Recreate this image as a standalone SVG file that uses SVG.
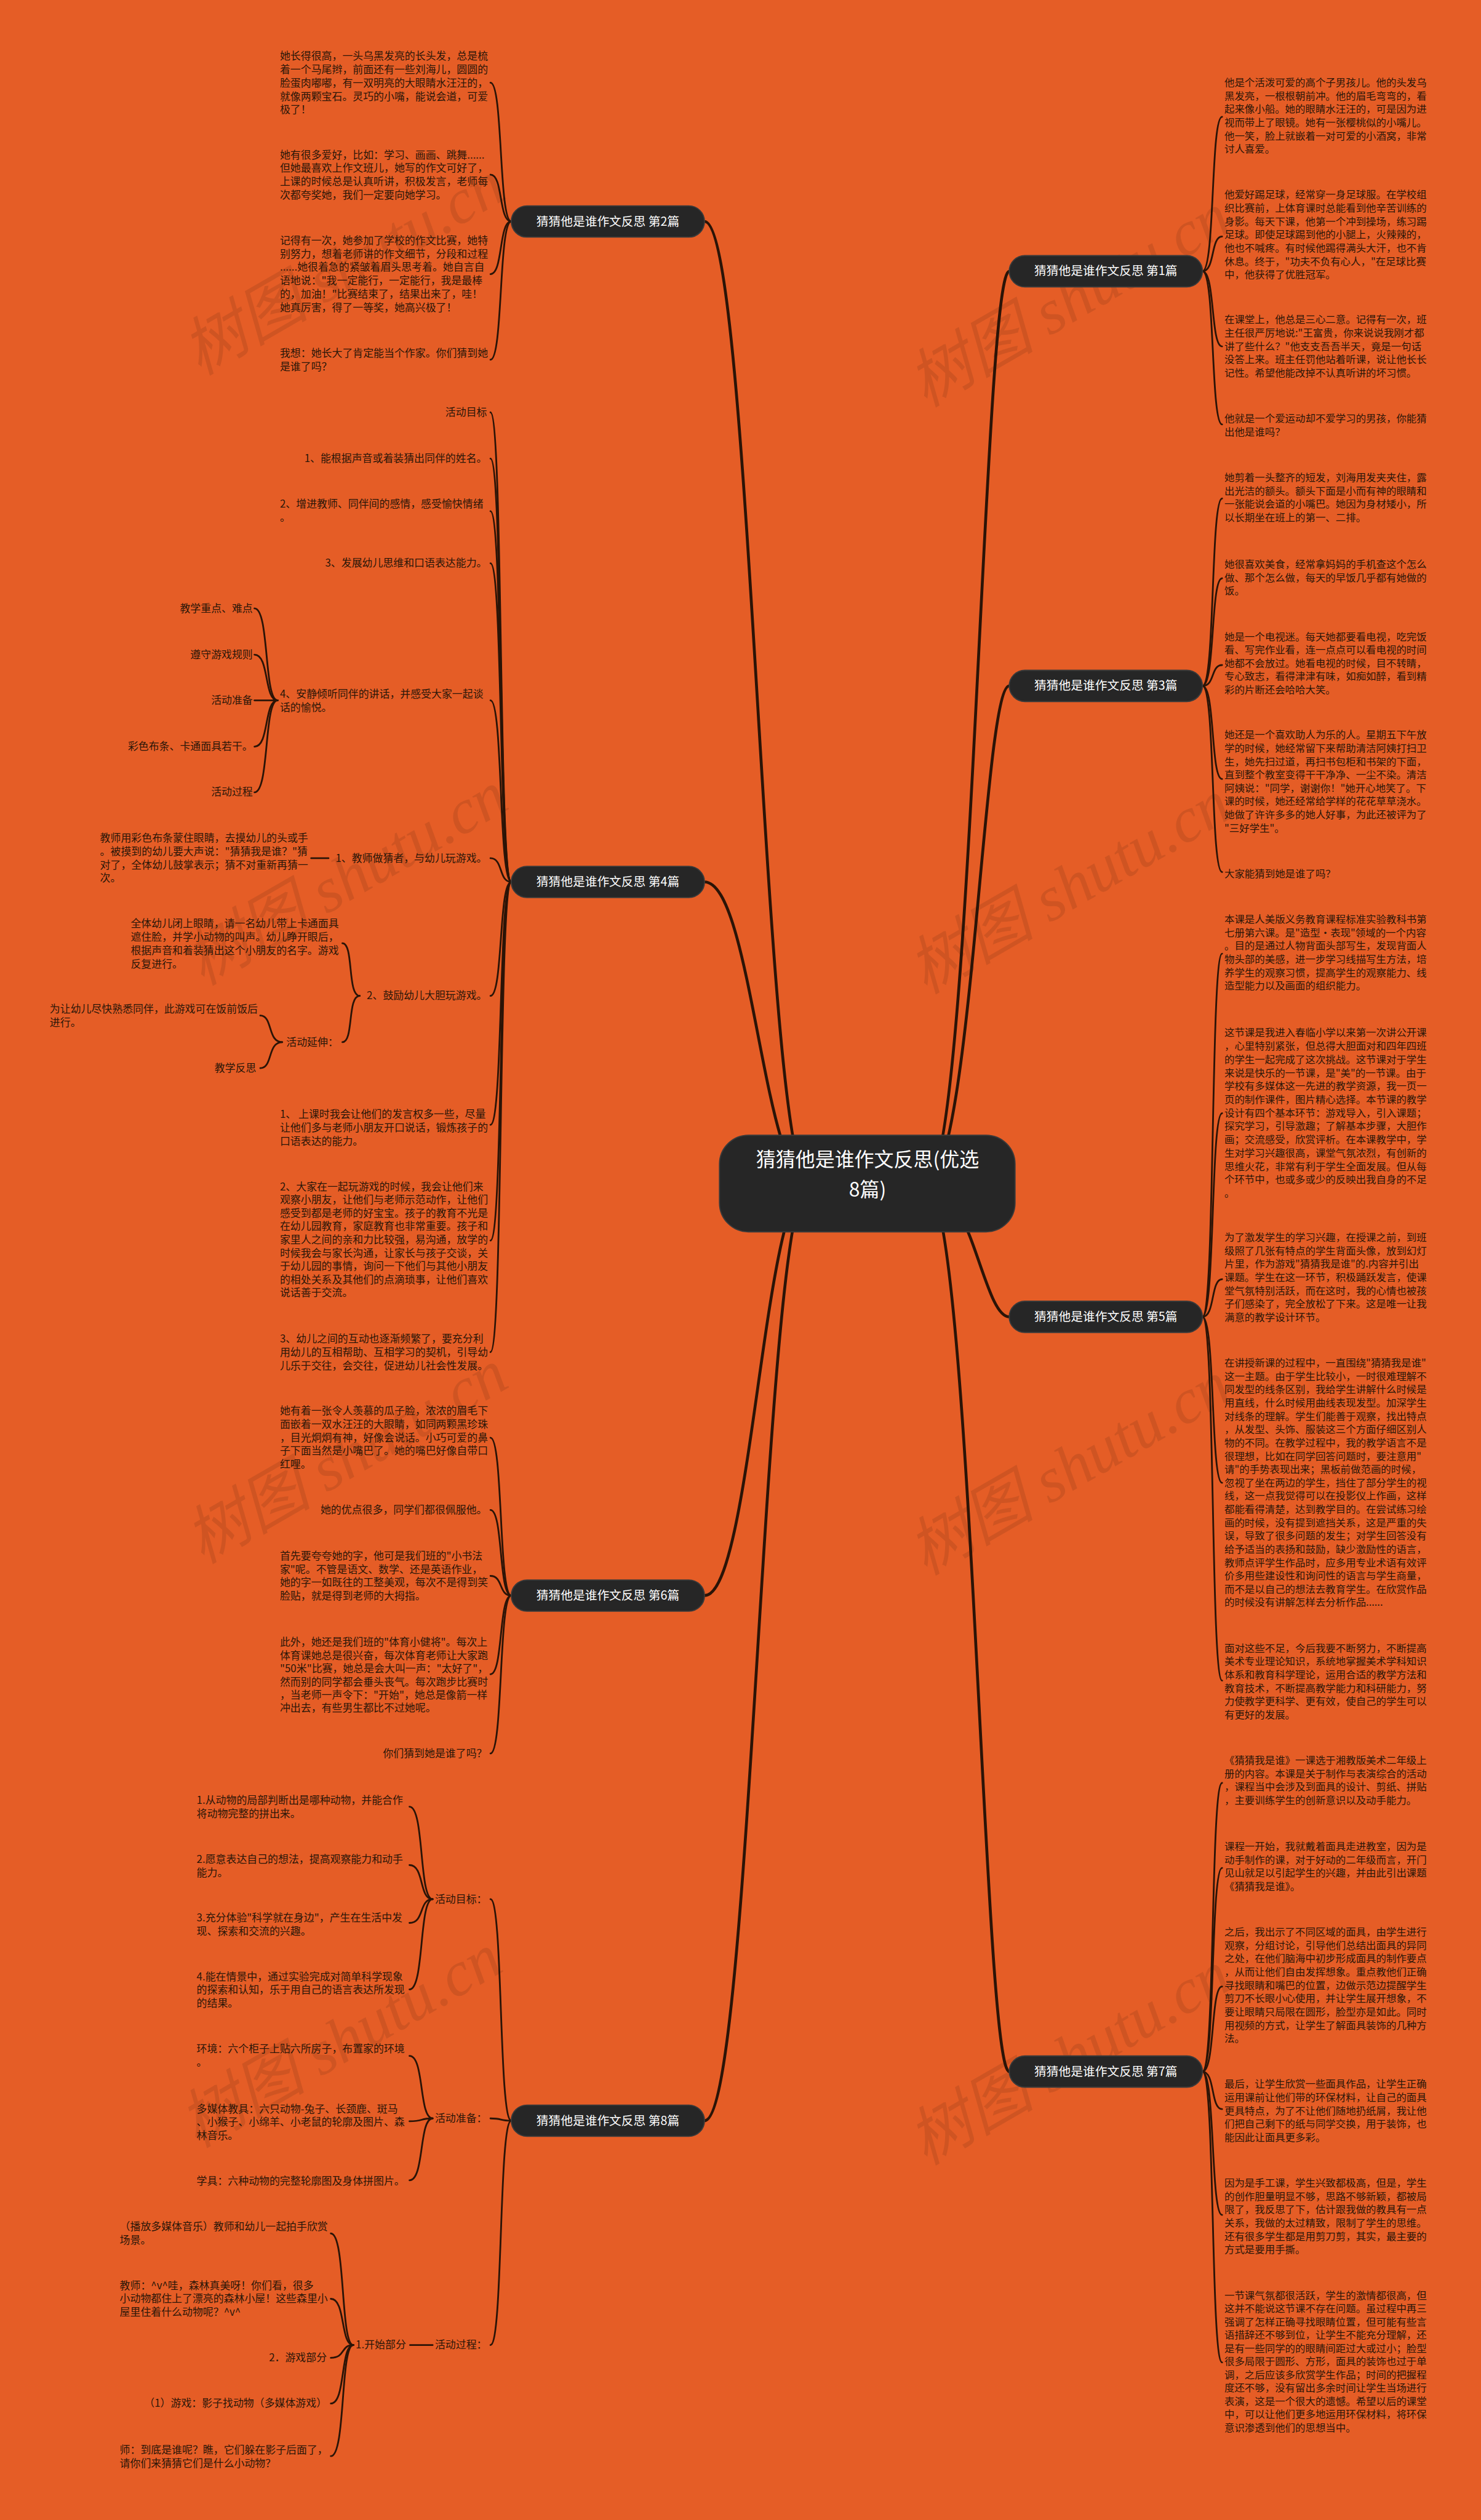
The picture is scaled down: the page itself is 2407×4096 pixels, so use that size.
<svg xmlns="http://www.w3.org/2000/svg" width="2407" height="4096" viewBox="0 0 2407 4096">
<style>
.bg{fill:#E55D26}
.t{font-family:"Noto Sans CJK SC","Noto Sans",sans-serif;font-size:18px;fill:#2B1608}
.r{font-size:17.5px}
.e{text-anchor:end}
.lb{font-family:"Noto Sans CJK SC","Noto Sans",sans-serif;font-size:21px;fill:#fff;text-anchor:middle}
.ct{font-family:"Noto Sans CJK SC","Noto Sans",sans-serif;font-size:34px;fill:#fff;text-anchor:middle}
.box{fill:#262626;stroke:#3a3a3a;stroke-width:2}
.c{fill:none;stroke:#2B1407;stroke-width:3;stroke-linecap:round}
.m{stroke-width:5}
.wm{font-family:"Liberation Serif","Noto Sans CJK SC",serif;font-style:italic;font-size:110px;fill:#000;opacity:.09}
</style>
<rect class="bg" x="0" y="0" width="2407" height="4096"/>
<g transform="scale(0.94)">
<g id="watermark">
<text class="wm" transform="translate(345,650) rotate(-30)">树图 shutu.cn</text>
<text class="wm" transform="translate(350,1705) rotate(-30)">树图 shutu.cn</text>
<text class="wm" transform="translate(350,2705) rotate(-30)">树图 shutu.cn</text>
<text class="wm" transform="translate(340,3715) rotate(-30)">树图 shutu.cn</text>
<text class="wm" transform="translate(1600,705) rotate(-30)">树图 shutu.cn</text>
<text class="wm" transform="translate(1600,1720) rotate(-30)">树图 shutu.cn</text>
<text class="wm" transform="translate(1600,2725) rotate(-30)">树图 shutu.cn</text>
<text class="wm" transform="translate(1600,3745) rotate(-30)">树图 shutu.cn</text>
</g>
<g id="connectors">
<path class="c m" d="M1400,2046 C1320,2046 1300,383 1218,383"/>
<path class="c m" d="M1400,2046 C1320,2046 1300,1525 1218,1525"/>
<path class="c m" d="M1400,2046 C1320,2046 1300,2759 1218,2759"/>
<path class="c m" d="M1400,2046 C1320,2046 1300,3667 1218,3667"/>
<path class="c m" d="M1600,2046 C1680,2046 1700,469 1745,469"/>
<path class="c m" d="M1600,2046 C1680,2046 1700,1186 1745,1186"/>
<path class="c m" d="M1600,2046 C1680,2046 1700,2277 1745,2277"/>
<path class="c m" d="M1600,2046 C1680,2046 1700,3582 1745,3582"/>
<path class="c" d="M884,383 C862,383 870,143 848,143"/>
<path class="c" d="M884,383 C862,383 870,302 848,302"/>
<path class="c" d="M884,383 C862,383 870,474 848,474"/>
<path class="c" d="M884,383 C862,383 870,622 848,622"/>
<path class="c" d="M884,1525 C862,1525 870,713 848,713"/>
<path class="c" d="M884,1525 C862,1525 870,793 848,793"/>
<path class="c" d="M884,1525 C862,1525 870,884 848,884"/>
<path class="c" d="M884,1525 C862,1525 870,974 848,974"/>
<path class="c" d="M884,1525 C862,1525 870,1211 848,1211"/>
<path class="c" d="M884,1525 C862,1525 870,1484 848,1484"/>
<path class="c" d="M884,1525 C862,1525 870,1722 848,1722"/>
<path class="c" d="M884,1525 C862,1525 870,1945 848,1945"/>
<path class="c" d="M884,1525 C862,1525 870,2145 848,2145"/>
<path class="c" d="M884,1525 C862,1525 870,2338 848,2338"/>
<path class="c" d="M480,1211 C456,1211 466,1052 440,1052"/>
<path class="c" d="M480,1211 C456,1211 466,1132 440,1132"/>
<path class="c" d="M480,1211 L440,1211"/>
<path class="c" d="M480,1211 C456,1211 466,1291 440,1291"/>
<path class="c" d="M480,1211 C456,1211 466,1370 440,1370"/>
<path class="c" d="M568,1484 L538,1484"/>
<path class="c" d="M622,1722 C600,1722 612,1631 592,1631"/>
<path class="c" d="M622,1722 C600,1722 612,1802 592,1802"/>
<path class="c" d="M488,1802 C462,1802 472,1756 450,1756"/>
<path class="c" d="M488,1802 C462,1802 472,1847 450,1847"/>
<path class="c" d="M884,2759 C862,2759 870,2486 848,2486"/>
<path class="c" d="M884,2759 C862,2759 870,2611 848,2611"/>
<path class="c" d="M884,2759 C862,2759 870,2725 848,2725"/>
<path class="c" d="M884,2759 C862,2759 870,2895 848,2895"/>
<path class="c" d="M884,2759 C862,2759 870,3032 848,3032"/>
<path class="c" d="M884,3667 C862,3667 870,3284 848,3284"/>
<path class="c" d="M884,3667 C862,3667 870,3663 848,3663"/>
<path class="c" d="M884,3667 C862,3667 870,4055 848,4055"/>
<path class="c" d="M748,3284 C724,3284 734,3124 708,3124"/>
<path class="c" d="M748,3284 C724,3284 734,3225 708,3225"/>
<path class="c" d="M748,3284 C724,3284 734,3325 708,3325"/>
<path class="c" d="M748,3284 C724,3284 734,3440 708,3440"/>
<path class="c" d="M748,3663 C724,3663 734,3555 708,3555"/>
<path class="c" d="M748,3663 C724,3663 734,3668 708,3668"/>
<path class="c" d="M748,3663 C724,3663 734,3770 708,3770"/>
<path class="c" d="M748,4055 L709,4055"/>
<path class="c" d="M611,4055 C588,4055 598,3862 572,3862"/>
<path class="c" d="M611,4055 C588,4055 598,3975 572,3975"/>
<path class="c" d="M611,4055 C588,4055 598,4077 572,4077"/>
<path class="c" d="M611,4055 C588,4055 598,4156 572,4156"/>
<path class="c" d="M611,4055 C588,4055 598,4247 572,4247"/>
<path class="c" d="M2079,469 C2101,469 2093,202 2113,202"/>
<path class="c" d="M2079,469 C2101,469 2093,409 2113,409"/>
<path class="c" d="M2079,469 C2101,469 2093,599 2113,599"/>
<path class="c" d="M2079,469 C2101,469 2093,734 2113,734"/>
<path class="c" d="M2079,1186 C2101,1186 2093,862 2113,862"/>
<path class="c" d="M2079,1186 C2101,1186 2093,1000 2113,1000"/>
<path class="c" d="M2079,1186 C2101,1186 2093,1150 2113,1150"/>
<path class="c" d="M2079,1186 C2101,1186 2093,1347 2113,1347"/>
<path class="c" d="M2079,1186 C2101,1186 2093,1508 2113,1508"/>
<path class="c" d="M2079,2277 C2101,2277 2093,1649 2113,1649"/>
<path class="c" d="M2079,2277 C2101,2277 2093,1925 2113,1925"/>
<path class="c" d="M2079,2277 C2101,2277 2093,2212 2113,2212"/>
<path class="c" d="M2079,2277 C2101,2277 2093,2564 2113,2564"/>
<path class="c" d="M2079,2277 C2101,2277 2093,2906 2113,2906"/>
<path class="c" d="M2079,3582 C2101,3582 2093,3083 2113,3083"/>
<path class="c" d="M2079,3582 C2101,3582 2093,3230 2113,3230"/>
<path class="c" d="M2079,3582 C2101,3582 2093,3435 2113,3435"/>
<path class="c" d="M2079,3582 C2101,3582 2093,3647 2113,3647"/>
<path class="c" d="M2079,3582 C2101,3582 2093,3830 2113,3830"/>
<path class="c" d="M2079,3582 C2101,3582 2093,4085 2113,4085"/>
</g>
<g id="root">
<rect class="box" x="1244" y="1963" width="511" height="167" rx="50"/>
<text class="ct" x="1500" y="2017">猜猜他是谁作文反思(优选</text>
<text class="ct" x="1500" y="2069">8篇)</text>
</g>
<g id="b1"><rect class="box" x="1745" y="442" width="334" height="54" rx="27"/><text class="lb" x="1912" y="476">猜猜他是谁作文反思 第1篇</text></g>
<g id="b3"><rect class="box" x="1745" y="1159" width="334" height="54" rx="27"/><text class="lb" x="1912" y="1193">猜猜他是谁作文反思 第3篇</text></g>
<g id="b5"><rect class="box" x="1745" y="2250" width="334" height="54" rx="27"/><text class="lb" x="1912" y="2284">猜猜他是谁作文反思 第5篇</text></g>
<g id="b7"><rect class="box" x="1745" y="3555" width="334" height="54" rx="27"/><text class="lb" x="1912" y="3589">猜猜他是谁作文反思 第7篇</text></g>
<g id="b2"><rect class="box" x="884" y="356" width="334" height="54" rx="27"/><text class="lb" x="1051" y="390">猜猜他是谁作文反思 第2篇</text></g>
<g id="b4"><rect class="box" x="884" y="1498" width="334" height="54" rx="27"/><text class="lb" x="1051" y="1532">猜猜他是谁作文反思 第4篇</text></g>
<g id="b6"><rect class="box" x="884" y="2732" width="334" height="54" rx="27"/><text class="lb" x="1051" y="2766">猜猜他是谁作文反思 第6篇</text></g>
<g id="b8"><rect class="box" x="884" y="3640" width="334" height="54" rx="27"/><text class="lb" x="1051" y="3674">猜猜他是谁作文反思 第8篇</text></g>

<g id="n2-1"><text class="t"><tspan x="484" y="103">她长得很高，一头乌黑发亮的长头发，总是梳</tspan><tspan x="484" dy="23.3">着一个马尾辫，前面还有一些刘海儿，圆圆的</tspan><tspan x="484" dy="23.3">脸蛋肉嘟嘟，有一双明亮的大眼睛水汪汪的，</tspan><tspan x="484" dy="23.3">就像两颗宝石。灵巧的小嘴，能说会道，可爱</tspan><tspan x="484" dy="23.3">极了！</tspan></text></g>
<g id="n2-2"><text class="t"><tspan x="484" y="274">她有很多爱好，比如：学习、画画、跳舞......</tspan><tspan x="484" dy="23.3">但她最喜欢上作文班儿，她写的作文可好了，</tspan><tspan x="484" dy="23.3">上课的时候总是认真听讲，积极发言，老师每</tspan><tspan x="484" dy="23.3">次都夸奖她，我们一定要向她学习。</tspan></text></g>
<g id="n2-3"><text class="t"><tspan x="484" y="422">记得有一次，她参加了学校的作文比赛，她特</tspan><tspan x="484" dy="23.3">别努力，想着老师讲的作文细节，分段和过程</tspan><tspan x="484" dy="23.3">......她很着急的紧皱着眉头思考着。她自言自</tspan><tspan x="484" dy="23.3">语地说："我一定能行，一定能行，我是最棒</tspan><tspan x="484" dy="23.3">的，加油！"比赛结束了，结果出来了，哇！</tspan><tspan x="484" dy="23.3">她真厉害，得了一等奖，她高兴极了！</tspan></text></g>
<g id="n2-4"><text class="t"><tspan x="484" y="617">我想：她长大了肯定能当个作家。你们猜到她</tspan><tspan x="484" dy="23.3">是谁了吗？</tspan></text></g>

<g id="n4-1"><text class="t e" x="842" y="719">活动目标</text></g>
<g id="n4-2"><text class="t e" x="842" y="799">1、能根据声音或着装猜出同伴的姓名。</text></g>
<g id="n4-3"><text class="t"><tspan x="484" y="878">2、增进教师、同伴间的感情，感受愉快情绪</tspan><tspan x="484" dy="23.3">。</tspan></text></g>
<g id="n4-4"><text class="t e" x="842" y="980">3、发展幼儿思维和口语表达能力。</text></g>
<g id="n4-5"><text class="t"><tspan x="484" y="1206">4、安静倾听同伴的讲话，并感受大家一起谈</tspan><tspan x="484" dy="23.3">话的愉悦。</tspan></text></g>
<g id="n4-5-1"><text class="t e" x="437" y="1058">教学重点、难点</text></g>
<g id="n4-5-2"><text class="t e" x="437" y="1138">遵守游戏规则</text></g>
<g id="n4-5-3"><text class="t e" x="437" y="1217">活动准备</text></g>
<g id="n4-5-4"><text class="t e" x="437" y="1297">彩色布条、卡通面具若干。</text></g>
<g id="n4-5-5"><text class="t e" x="437" y="1376">活动过程</text></g>
<g id="n4-6"><text class="t e" x="842" y="1490">1、教师做猜者，与幼儿玩游戏。</text></g>
<g id="n4-6-1"><text class="t"><tspan x="173" y="1455">教师用彩色布条蒙住眼睛，去摸幼儿的头或手</tspan><tspan x="173" dy="23.3">。被摸到的幼儿要大声说："猜猜我是谁？"猜</tspan><tspan x="173" dy="23.3">对了，全体幼儿鼓掌表示；猜不对重新再猜一</tspan><tspan x="173" dy="23.3">次。</tspan></text></g>
<g id="n4-7"><text class="t e" x="842" y="1728">2、鼓励幼儿大胆玩游戏。</text></g>
<g id="n4-7-1"><text class="t"><tspan x="226" y="1603">全体幼儿闭上眼睛，请一名幼儿带上卡通面具</tspan><tspan x="226" dy="23.3">遮住脸，并学小动物的叫声。幼儿睁开眼后，</tspan><tspan x="226" dy="23.3">根据声音和着装猜出这个小朋友的名字。游戏</tspan><tspan x="226" dy="23.3">反复进行。</tspan></text></g>
<g id="n4-7-2"><text class="t" x="495" y="1808">活动延伸：</text></g>
<g id="n4-7-2-1"><text class="t"><tspan x="86" y="1751">为让幼儿尽快熟悉同伴，此游戏可在饭前饭后</tspan><tspan x="86" dy="23.3">进行。</tspan></text></g>
<g id="n4-7-2-2"><text class="t e" x="443" y="1853">教学反思</text></g>
<g id="n4-8"><text class="t"><tspan x="484" y="1933">1、 上课时我会让他们的发言权多一些，尽量</tspan><tspan x="484" dy="23.3">让他们多与老师小朋友开口说话，锻炼孩子的</tspan><tspan x="484" dy="23.3">口语表达的能力。</tspan></text></g>
<g id="n4-9"><text class="t"><tspan x="484" y="2058">2、大家在一起玩游戏的时候，我会让他们来</tspan><tspan x="484" dy="23">观察小朋友，让他们与老师示范动作，让他们</tspan><tspan x="484" dy="23">感受到都是老师的好宝宝。孩子的教育不光是</tspan><tspan x="484" dy="23">在幼儿园教育，家庭教育也非常重要。孩子和</tspan><tspan x="484" dy="23">家里人之间的亲和力比较强，易沟通，放学的</tspan><tspan x="484" dy="23">时候我会与家长沟通，让家长与孩子交谈，关</tspan><tspan x="484" dy="23">于幼儿园的事情，询问一下他们与其他小朋友</tspan><tspan x="484" dy="23">的相处关系及其他们的点滴琐事，让他们喜欢</tspan><tspan x="484" dy="23">说话善于交流。</tspan></text></g>
<g id="n4-10"><text class="t"><tspan x="484" y="2321">3、幼儿之间的互动也逐渐频繁了，要充分利</tspan><tspan x="484" dy="23.3">用幼儿的互相帮助、互相学习的契机，引导幼</tspan><tspan x="484" dy="23.3">儿乐于交往，会交往，促进幼儿社会性发展。</tspan></text></g>

<g id="n6-1"><text class="t"><tspan x="484" y="2446">她有着一张令人羡慕的瓜子脸，浓浓的眉毛下</tspan><tspan x="484" dy="23.1">面嵌着一双水汪汪的大眼睛，如同两颗黑珍珠</tspan><tspan x="484" dy="23.1">，目光炯炯有神，好像会说话。小巧可爱的鼻</tspan><tspan x="484" dy="23.1">子下面当然是小嘴巴了。她的嘴巴好像自带口</tspan><tspan x="484" dy="23.1">红哩。</tspan></text></g>
<g id="n6-2"><text class="t e" x="842" y="2617">她的优点很多，同学们都很佩服他。</text></g>
<g id="n6-3"><text class="t"><tspan x="484" y="2697">首先要夸夸她的字，他可是我们班的"小书法</tspan><tspan x="484" dy="23">家"呢。不管是语文、数学、还是英语作业，</tspan><tspan x="484" dy="23">她的字一如既往的工整美观，每次不是得到笑</tspan><tspan x="484" dy="23">脸贴，就是得到老师的大拇指。</tspan></text></g>
<g id="n6-4"><text class="t"><tspan x="484" y="2846">此外，她还是我们班的"体育小健将"。每次上</tspan><tspan x="484" dy="22.8">体育课她总是很兴奋，每次体育老师让大家跑</tspan><tspan x="484" dy="22.8">"50米"比赛，她总是会大叫一声："太好了"，</tspan><tspan x="484" dy="22.8">然而别的同学都会垂头丧气。每次跑步比赛时</tspan><tspan x="484" dy="22.8">，当老师一声令下："开始"，她总是像箭一样</tspan><tspan x="484" dy="22.8">冲出去，有些男生都比不过她呢。</tspan></text></g>
<g id="n6-5"><text class="t e" x="842" y="3038">你们猜到她是谁了吗？</text></g>

<g id="n8-1"><text class="t e" x="842" y="3290">活动目标：</text></g>
<g id="n8-1-1"><text class="t"><tspan x="340" y="3119">1.从动物的局部判断出是哪种动物，并能合作</tspan><tspan x="340" dy="23.3">将动物完整的拼出来。</tspan></text></g>
<g id="n8-1-2"><text class="t"><tspan x="340" y="3221">2.愿意表达自己的想法，提高观察能力和动手</tspan><tspan x="340" dy="23.3">能力。</tspan></text></g>
<g id="n8-1-3"><text class="t"><tspan x="340" y="3322">3.充分体验"科学就在身边"，产生在生活中发</tspan><tspan x="340" dy="23.3">现、探索和交流的兴趣。</tspan></text></g>
<g id="n8-1-4"><text class="t"><tspan x="340" y="3424">4.能在情景中，通过实验完成对简单科学现象</tspan><tspan x="340" dy="23.3">的探索和认知，乐于用自己的语言表达所发现</tspan><tspan x="340" dy="23.3">的结果。</tspan></text></g>
<g id="n8-2"><text class="t e" x="842" y="3669">活动准备：</text></g>
<g id="n8-2-1"><text class="t"><tspan x="340" y="3549">环境：六个柜子上贴六所房子，布置家的环境</tspan><tspan x="340" dy="23.3">。</tspan></text></g>
<g id="n8-2-2"><text class="t"><tspan x="340" y="3653">多媒体教具：六只动物-兔子、长颈鹿、斑马</tspan><tspan x="340" dy="23">、小猴子、小绵羊、小老鼠的轮廓及图片、森</tspan><tspan x="340" dy="23">林音乐。</tspan></text></g>
<g id="n8-2-3"><text class="t"><tspan x="340" y="3778">学具：六种动物的完整轮廓图及身体拼图片。</tspan></text></g>
<g id="n8-3"><text class="t e" x="842" y="4061">活动过程：</text></g>
<g id="n8-3-1"><text class="t" x="615" y="4061">1.开始部分</text></g>
<g id="n8-3-1-1"><text class="t"><tspan x="207" y="3856">（播放多媒体音乐）教师和幼儿一起拍手欣赏</tspan><tspan x="207" dy="23.3">场景。</tspan></text></g>
<g id="n8-3-1-2"><text class="t"><tspan x="207" y="3958">教师：^v^哇，森林真美呀！你们看，很多</tspan><tspan x="207" dy="23.3">小动物都住上了漂亮的森林小屋！这些森里小</tspan><tspan x="207" dy="23.3">屋里住着什么动物呢？^v^</tspan></text></g>
<g id="n8-3-1-3"><text class="t e" x="565" y="4083">2．游戏部分</text></g>
<g id="n8-3-1-4"><text class="t e" x="565" y="4162">（1）游戏：影子找动物（多媒体游戏）</text></g>
<g id="n8-3-1-5"><text class="t"><tspan x="207" y="4243">师：到底是谁呢？瞧，它们躲在影子后面了，</tspan><tspan x="207" dy="23.3">请你们来猜猜它们是什么小动物？</tspan></text></g>

<g id="n1-1"><text class="t r"><tspan x="2117" y="149">他是个活泼可爱的高个子男孩儿。他的头发乌</tspan><tspan x="2117" dy="23">黑发亮，一根根朝前冲。他的眉毛弯弯的，看</tspan><tspan x="2117" dy="23">起来像小船。她的眼睛水汪汪的，可是因为进</tspan><tspan x="2117" dy="23">视而带上了眼镜。她有一张樱桃似的小嘴儿。</tspan><tspan x="2117" dy="23">他一笑，脸上就嵌着一对可爱的小酒窝，非常</tspan><tspan x="2117" dy="23">讨人喜爱。</tspan></text></g>
<g id="n1-2"><text class="t r"><tspan x="2117" y="343">他爱好踢足球，经常穿一身足球服。在学校组</tspan><tspan x="2117" dy="23">织比赛前，上体育课时总能看到他辛苦训练的</tspan><tspan x="2117" dy="23">身影。每天下课，他第一个冲到操场，练习踢</tspan><tspan x="2117" dy="23">足球。即使足球踢到他的小腿上，火辣辣的，</tspan><tspan x="2117" dy="23">他也不喊疼。有时候他踢得满头大汗，也不肯</tspan><tspan x="2117" dy="23">休息。终于，"功夫不负有心人，"在足球比赛</tspan><tspan x="2117" dy="23">中，他获得了优胜冠军。</tspan></text></g>
<g id="n1-3"><text class="t r"><tspan x="2117" y="559">在课堂上，他总是三心二意。记得有一次，班</tspan><tspan x="2117" dy="23">主任很严厉地说:"王富贵，你来说说我刚才都</tspan><tspan x="2117" dy="23">讲了些什么？"他支支吾吾半天，竟是一句话</tspan><tspan x="2117" dy="23">没答上来。班主任罚他站着听课，说让他长长</tspan><tspan x="2117" dy="23">记性。希望他能改掉不认真听讲的坏习惯。</tspan></text></g>
<g id="n1-4"><text class="t r"><tspan x="2117" y="730">他就是一个爱运动却不爱学习的男孩，你能猜</tspan><tspan x="2117" dy="23">出他是谁吗？</tspan></text></g>

<g id="n3-1"><text class="t r"><tspan x="2117" y="832">她剪着一头整齐的短发，刘海用发夹夹住，露</tspan><tspan x="2117" dy="23">出光洁的额头。额头下面是小而有神的眼睛和</tspan><tspan x="2117" dy="23">一张能说会道的小嘴巴。她因为身材矮小，所</tspan><tspan x="2117" dy="23">以长期坐在班上的第一、二排。</tspan></text></g>
<g id="n3-2"><text class="t r"><tspan x="2117" y="982">她很喜欢美食，经常拿妈妈的手机查这个怎么</tspan><tspan x="2117" dy="23">做、那个怎么做，每天的早饭几乎都有她做的</tspan><tspan x="2117" dy="23">饭。</tspan></text></g>
<g id="n3-3"><text class="t r"><tspan x="2117" y="1107">她是一个电视迷。每天她都要看电视，吃完饭</tspan><tspan x="2117" dy="23">看、写完作业看，连一点点可以看电视的时间</tspan><tspan x="2117" dy="23">她都不会放过。她看电视的时候，目不转睛，</tspan><tspan x="2117" dy="23">专心致志，看得津津有味，如痴如醉，看到精</tspan><tspan x="2117" dy="23">彩的片断还会哈哈大笑。</tspan></text></g>
<g id="n3-4"><text class="t r"><tspan x="2117" y="1277">她还是一个喜欢助人为乐的人。星期五下午放</tspan><tspan x="2117" dy="23">学的时候，她经常留下来帮助清洁阿姨打扫卫</tspan><tspan x="2117" dy="23">生，她先扫过道，再扫书包柜和书架的下面，</tspan><tspan x="2117" dy="23">直到整个教室变得干干净净、一尘不染。清洁</tspan><tspan x="2117" dy="23">阿姨说："同学，谢谢你！"她开心地笑了。下</tspan><tspan x="2117" dy="23">课的时候，她还经常给学样的花花草草浇水。</tspan><tspan x="2117" dy="23">她做了许许多多的她人好事，为此还被评为了</tspan><tspan x="2117" dy="23">"三好学生"。</tspan></text></g>
<g id="n3-5"><text class="t r" x="2117" y="1517">大家能猜到她是谁了吗？</text></g>

<g id="n5-1"><text class="t r"><tspan x="2117" y="1596">本课是人美版义务教育课程标准实验教科书第</tspan><tspan x="2117" dy="23">七册第六课。是"造型·表现"领域的一个内容</tspan><tspan x="2117" dy="23">。目的是通过人物背面头部写生，发现背面人</tspan><tspan x="2117" dy="23">物头部的美感，进一步学习线描写生方法，培</tspan><tspan x="2117" dy="23">养学生的观察习惯，提高学生的观察能力、线</tspan><tspan x="2117" dy="23">造型能力以及画面的组织能力。</tspan></text></g>
<g id="n5-2"><text class="t r"><tspan x="2117" y="1792">这节课是我进入春临小学以来第一次讲公开课</tspan><tspan x="2117" dy="23.1">，心里特别紧张，但总得大胆面对和四年四班</tspan><tspan x="2117" dy="23.1">的学生一起完成了这次挑战。这节课对于学生</tspan><tspan x="2117" dy="23.1">来说是快乐的一节课，是"美"的一节课。由于</tspan><tspan x="2117" dy="23.1">学校有多媒体这一先进的教学资源，我一页一</tspan><tspan x="2117" dy="23.1">页的制作课件，图片精心选择。本节课的教学</tspan><tspan x="2117" dy="23.1">设计有四个基本环节：游戏导入，引入课题；</tspan><tspan x="2117" dy="23.1">探究学习，引导激趣；了解基本步骤，大胆作</tspan><tspan x="2117" dy="23.1">画；交流感受，欣赏评析。在本课教学中，学</tspan><tspan x="2117" dy="23.1">生对学习兴趣很高，课堂气氛浓烈，有创新的</tspan><tspan x="2117" dy="23.1">思维火花，非常有利于学生全面发展。但从每</tspan><tspan x="2117" dy="23.1">个环节中，也或多或少的反映出我自身的不足</tspan><tspan x="2117" dy="23.1">。</tspan></text></g>
<g id="n5-3"><text class="t r"><tspan x="2117" y="2146">为了激发学生的学习兴趣，在授课之前，到班</tspan><tspan x="2117" dy="23">级照了几张有特点的学生背面头像，放到幻灯</tspan><tspan x="2117" dy="23">片里，作为游戏"猜猜我是谁"的.内容并引出</tspan><tspan x="2117" dy="23">课题。学生在这一环节，积极踊跃发言，使课</tspan><tspan x="2117" dy="23">堂气氛特别活跃，而在这时，我的心情也被孩</tspan><tspan x="2117" dy="23">子们感染了，完全放松了下来。这是唯一让我</tspan><tspan x="2117" dy="23">满意的教学设计环节。</tspan></text></g>
<g id="n5-4"><text class="t r"><tspan x="2117" y="2363">在讲授新课的过程中，一直围绕"猜猜我是谁"</tspan><tspan x="2117" dy="23">这一主题。由于学生比较小，一时很难理解不</tspan><tspan x="2117" dy="23">同发型的线条区别，我给学生讲解什么时候是</tspan><tspan x="2117" dy="23">用直线，什么时候用曲线表现发型。加深学生</tspan><tspan x="2117" dy="23">对线条的理解。学生们能善于观察，找出特点</tspan><tspan x="2117" dy="23">，从发型、头饰、服装这三个方面仔细区别人</tspan><tspan x="2117" dy="23">物的不同。在教学过程中，我的教学语言不是</tspan><tspan x="2117" dy="23">很理想，比如在同学回答问题时，要注意用"</tspan><tspan x="2117" dy="23">请"的手势表现出来；黑板前做范画的时候，</tspan><tspan x="2117" dy="23">忽视了坐在两边的学生，挡住了部分学生的视</tspan><tspan x="2117" dy="23">线，这一点我觉得可以在投影仪上作画，这样</tspan><tspan x="2117" dy="23">都能看得清楚，达到教学目的。在尝试练习绘</tspan><tspan x="2117" dy="23">画的时候，没有提到遮挡关系，这是严重的失</tspan><tspan x="2117" dy="23">误，导致了很多问题的发生；对学生回答没有</tspan><tspan x="2117" dy="23">给予适当的表扬和鼓励，缺少激励性的语言，</tspan><tspan x="2117" dy="23">教师点评学生作品时，应多用专业术语有效评</tspan><tspan x="2117" dy="23">价多用些建设性和询问性的语言与学生商量，</tspan><tspan x="2117" dy="23">而不是以自己的想法去教育学生。在欣赏作品</tspan><tspan x="2117" dy="23">的时候没有讲解怎样去分析作品......</tspan></text></g>
<g id="n5-5"><text class="t r"><tspan x="2117" y="2856">面对这些不足，今后我要不断努力，不断提高</tspan><tspan x="2117" dy="23">美术专业理论知识，系统地掌握美术学科知识</tspan><tspan x="2117" dy="23">体系和教育科学理论，运用合适的教学方法和</tspan><tspan x="2117" dy="23">教育技术，不断提高教学能力和科研能力，努</tspan><tspan x="2117" dy="23">力使教学更科学、更有效，使自己的学生可以</tspan><tspan x="2117" dy="23">有更好的发展。</tspan></text></g>

<g id="n7-1"><text class="t r"><tspan x="2117" y="3050">《猜猜我是谁》一课选于湘教版美术二年级上</tspan><tspan x="2117" dy="23">册的内容。本课是关于制作与表演综合的活动</tspan><tspan x="2117" dy="23">，课程当中会涉及到面具的设计、剪纸、拼贴</tspan><tspan x="2117" dy="23">，主要训练学生的创新意识以及动手能力。</tspan></text></g>
<g id="n7-2"><text class="t r"><tspan x="2117" y="3199">课程一开始，我就戴着面具走进教室，因为是</tspan><tspan x="2117" dy="23">动手制作的课，对于好动的二年级而言，开门</tspan><tspan x="2117" dy="23">见山就足以引起学生的兴趣，并由此引出课题</tspan><tspan x="2117" dy="23">《猜猜我是谁》。</tspan></text></g>
<g id="n7-3"><text class="t r"><tspan x="2117" y="3347">之后，我出示了不同区域的面具，由学生进行</tspan><tspan x="2117" dy="23">观察，分组讨论，引导他们总结出面具的异同</tspan><tspan x="2117" dy="23">之处，在他们脑海中初步形成面具的制作要点</tspan><tspan x="2117" dy="23">，从而让他们自由发挥想象。重点教他们正确</tspan><tspan x="2117" dy="23">寻找眼睛和嘴巴的位置，边做示范边提醒学生</tspan><tspan x="2117" dy="23">剪刀不长眼小心使用，并让学生展开想象，不</tspan><tspan x="2117" dy="23">要让眼睛只局限在圆形，脸型亦是如此。同时</tspan><tspan x="2117" dy="23">用视频的方式，让学生了解面具装饰的几种方</tspan><tspan x="2117" dy="23">法。</tspan></text></g>
<g id="n7-4"><text class="t r"><tspan x="2117" y="3610">最后，让学生欣赏一些面具作品，让学生正确</tspan><tspan x="2117" dy="23">运用课前让他们带的环保材料，让自己的面具</tspan><tspan x="2117" dy="23">更具特点，为了不让他们随地扔纸屑，我让他</tspan><tspan x="2117" dy="23">们把自己剩下的纸与同学交换，用于装饰，也</tspan><tspan x="2117" dy="23">能因此让面具更多彩。</tspan></text></g>
<g id="n7-5"><text class="t r"><tspan x="2117" y="3781">因为是手工课，学生兴致都极高，但是，学生</tspan><tspan x="2117" dy="23">的创作胆量明显不够，思路不够新颖，都被局</tspan><tspan x="2117" dy="23">限了，我反思了下，估计跟我做的教具有一点</tspan><tspan x="2117" dy="23">关系，我做的太过精致，限制了学生的思维。</tspan><tspan x="2117" dy="23">还有很多学生都是用剪刀剪，其实，最主要的</tspan><tspan x="2117" dy="23">方式是要用手撕。</tspan></text></g>
<g id="n7-6"><text class="t r"><tspan x="2117" y="3975">一节课气氛都很活跃，学生的激情都很高，但</tspan><tspan x="2117" dy="22.9">这并不能说这节课不存在问题。虽过程中再三</tspan><tspan x="2117" dy="22.9">强调了怎样正确寻找眼睛位置，但可能有些言</tspan><tspan x="2117" dy="22.9">语措辞还不够到位，让学生不能充分理解，还</tspan><tspan x="2117" dy="22.9">是有一些同学的的眼睛间距过大或过小；脸型</tspan><tspan x="2117" dy="22.9">很多局限于圆形、方形，面具的装饰也过于单</tspan><tspan x="2117" dy="22.9">调，之后应该多欣赏学生作品；时间的把握程</tspan><tspan x="2117" dy="22.9">度还不够，没有留出多余时间让学生当场进行</tspan><tspan x="2117" dy="22.9">表演，这是一个很大的遗憾。希望以后的课堂</tspan><tspan x="2117" dy="22.9">中，可以让他们更多地运用环保材料，将环保</tspan><tspan x="2117" dy="22.9">意识渗透到他们的思想当中。</tspan></text></g>
</g>
</svg>
